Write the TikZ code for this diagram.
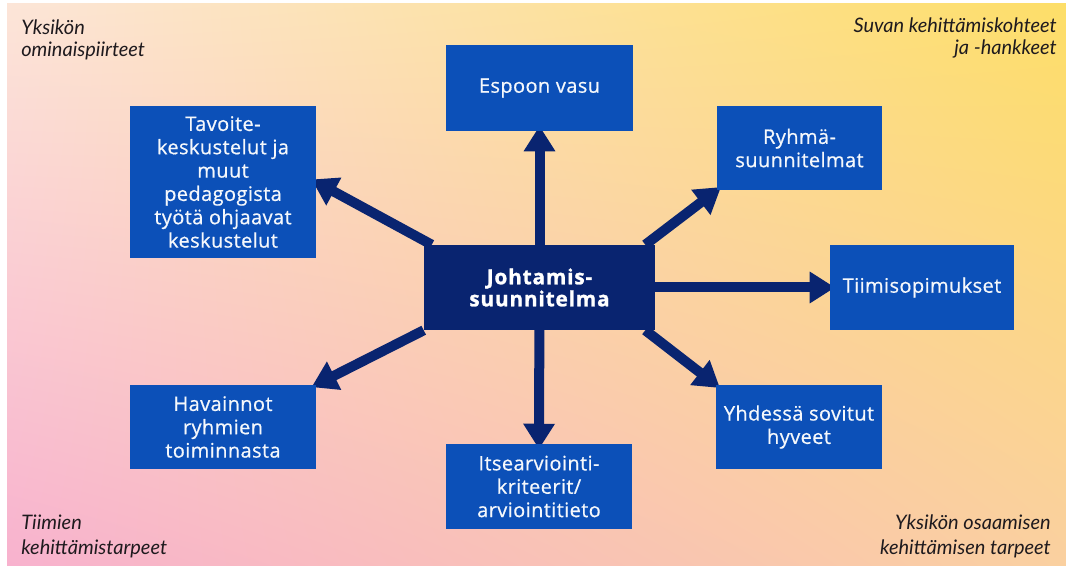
\documentclass[tikz,border=0pt]{standalone}
\usepackage{fontspec}
\setmainfont{Open Sans}
\newfontfamily\latofont{Lato}
\newfontfamily\boxfont[LetterSpace=2,FakeBold=0.6]{Open Sans}
\newfontfamily\hubfont[LetterSpace=4,FakeBold=1.2]{Open Sans Bold}
\usetikzlibrary{arrows.meta,calc,shadings}
\definecolor{boxblue}{RGB}{12,80,184}
\definecolor{navy}{RGB}{9,36,112}
\definecolor{labeltext}{RGB}{30,26,30}
\definecolor{bgTL}{RGB}{252,229,216}
\definecolor{bgTR}{RGB}{253,222,104}
\definecolor{bgBL}{RGB}{248,178,206}
\definecolor{bgBR}{RGB}{250,208,160}
\pgfdeclarelayer{bglayer}
\pgfdeclarelayer{arrlayer}
\pgfsetlayers{bglayer,arrlayer,main}
\begin{document}
\begin{tikzpicture}[x=0.75pt,y=-0.75pt,
  box/.style={fill=boxblue, text=white!96!boxblue, align=center, inner sep=0pt,
    font=\boxfont\fontsize{15}{17.5}\selectfont},
  hub/.style={fill=navy, text=white, align=center, inner sep=0pt,
    font=\hubfont\fontsize{15.6}{16.5}\selectfont},
  corner/.style={text=labeltext, inner sep=0pt,
    font=\latofont\itshape\fontsize{15}{16.3}\selectfont},
  cornerlow/.style={corner, font=\latofont\itshape\fontsize{15}{18.6}\selectfont},
  arr/.style={draw=navy, line width=7.5pt, -{Triangle[width=22.5pt,length=19pt]}, shorten >=-4pt}]
\useasboundingbox (0,0) rectangle (1066,566);
\begin{pgfonlayer}{bglayer}
  \fill[white] (0,0) rectangle (1066,566);
  \shade[upper left=bgTL, upper right=bgTR, lower left=bgBL, lower right=bgBR] (7,4) rectangle (1066,565);
\end{pgfonlayer}
% corner labels
\node[corner, anchor=north west, align=left] (tl) at (21,20) {Yksikön\\ominaispiirteet};
\node[corner, anchor=north east, align=right] (tr) at (1057,18) {Suvan kehittämiskohteet\\ja -hankkeet};
\node[cornerlow, anchor=north west, align=left] (bl) at (21,515) {Tiimien\\kehittämistarpeet};
\node[cornerlow, anchor=north east, align=right] (br) at (1051,515) {Yksikön osaamisen\\kehittämisen tarpeet};
% boxes
\node[hub, minimum width=173.25pt, minimum height=63.75pt] (c) at (539.5,287.5) {Johtamis-\\suunnitelma};
\node[box, minimum width=140.25pt, minimum height=64.5pt] (esp) at (539.5,88) {Espoon vasu};
\node[box, minimum width=123.75pt, minimum height=63pt] (ryh) at (799.5,148) {Ryhmä-\\suunnitelmat};
\node[box, minimum width=138pt, minimum height=63.75pt] (tii) at (922,287.5) {Tiimisopimukset};
\node[box, minimum width=124.5pt, minimum height=63pt] (yhd) at (799,427) {Yhdessä sovitut\\hyveet};
\node[box, minimum width=139.5pt, minimum height=63.75pt] (its) at (539,486.5) {Itsearviointi-\\kriteerit/\\arviointitieto};
\node[box, minimum width=139.5pt, minimum height=63pt] (hav) at (223,427) {Havainnot\\ryhmien\\toiminnasta};
\node[box, minimum width=139.5pt, minimum height=114pt] (tav) at (223,182) {Tavoite-\\keskustelut ja\\muut\\pedagogista\\työtä ohjaavat\\keskustelut};
% arrows
\begin{pgfonlayer}{arrlayer}
  \draw[arr] (c.center) -- (esp.south);
  \draw[arr] (c.center) -- (its.north);
  \draw[arr] (c.center |- tii.west) -- (tii.west);
  \draw[arr] ($(c.north east)+(-10,0)$) -- (ryh.south west);
  \draw[arr] ($(c.south east)+(-10,0)$) -- (yhd.north west);
  \draw[arr] ($(c.north west)+(8,0)$) -- (tav.east);
  \draw[arr] (c.south west) -- (hav.north east);
\end{pgfonlayer}
\end{tikzpicture}
\end{document}
